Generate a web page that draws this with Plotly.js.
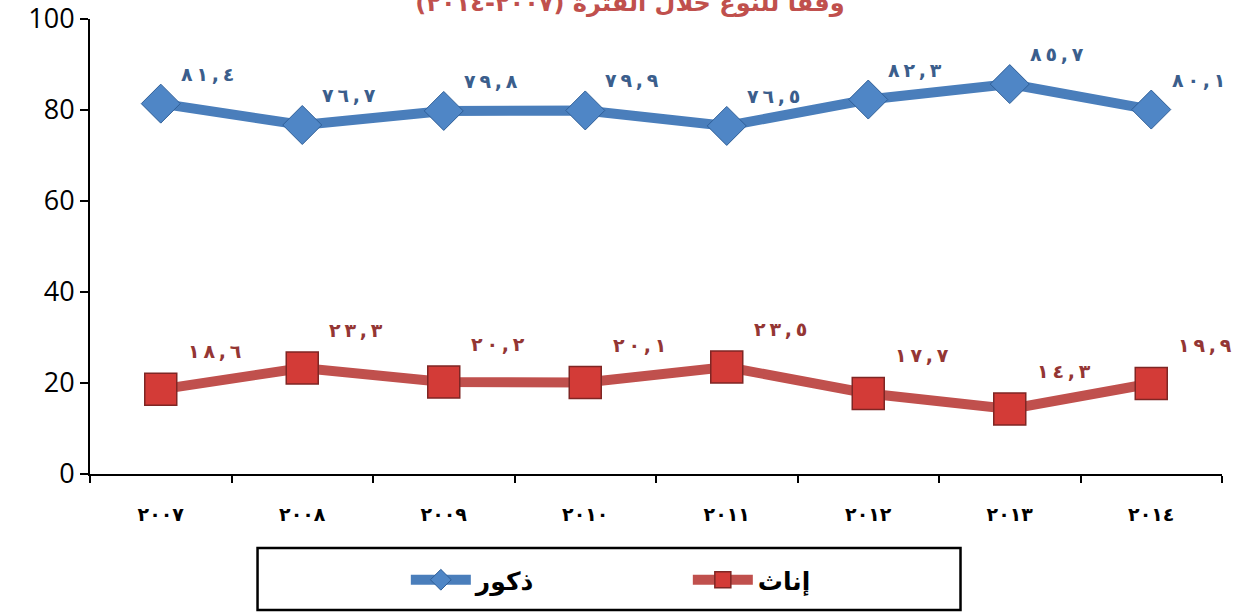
<!DOCTYPE html>
<html><head><meta charset="utf-8">
<script src="https://cdn.plot.ly/plotly-3.0.1.min.js"></script>
<style>html,body{margin:0;padding:0;background:#fff}</style>
</head><body>
<div id="chart" style="width:1245px;height:613px"></div>
<script>
const years = ["2007","2008","2009","2010","2011","2012","2013","2014"];
const yearLabels = ["٢٠٠٧","٢٠٠٨","٢٠٠٩","٢٠١٠","٢٠١١","٢٠١٢","٢٠١٣","٢٠١٤"];
const males = [81.4, 76.7, 79.8, 79.9, 76.5, 82.3, 85.7, 80.1];
const females = [18.6, 23.3, 20.2, 20.1, 23.5, 17.7, 14.3, 19.9];
const maleName = "ذكور";
const femaleName = "إناث";
const titleText = "وفقا للنوع خلال الفترة (٢٠٠٧-٢٠١٤)";

const arDigits = "٠١٢٣٤٥٦٧٨٩";
function toArabic(v){
  const s = v.toFixed(1).replace(".", ",");
  // force left-to-right visual order
  return "\u202D" + s.split("").map(c => /[0-9]/.test(c) ? arDigits[+c] : c).join("\u2009") + "\u202C";
}

const traces = [
  {x: years, y: males, name: maleName, type: "scatter", mode: "lines+markers",
   line: {color: "#4A7EBB", width: 10},
   marker: {symbol: "diamond", size: 30, color: "#4F86C6", line: {color: "#2F5F98", width: 1}}},
  {x: years, y: females, name: femaleName, type: "scatter", mode: "lines+markers",
   line: {color: "#C0504D", width: 10},
   marker: {symbol: "square", size: 32, color: "#D33B37", line: {color: "#7F2624", width: 1.5}}}
];

const annotations = [];
years.forEach((yr, i) => {
  annotations.push({x: i, y: males[i], xref: "x", yref: "y", text: toArabic(males[i]), showarrow: false,
    xshift: 47, yshift: 30, font: {family: "DejaVu Sans", size: 19, color: "#3B5E8C", weight: "bold"}});
  annotations.push({x: i, y: females[i], xref: "x", yref: "y", text: toArabic(females[i]), showarrow: false,
    xshift: 54, yshift: 38, font: {family: "DejaVu Sans", size: 19, color: "#943634", weight: "bold"}});
});

const layout = {
  width: 1245, height: 613,
  margin: {l: 90, r: 23, t: 19, b: 139, autoexpand: false},
  paper_bgcolor: "#fff", plot_bgcolor: "#fff",
  title: {text: "<b>" + titleText + "</b>", font: {family: "DejaVu Sans", size: 24, color: "#C0504D"},
          x: 0.506, xanchor: "center", yref: "paper", y: 1, yanchor: "bottom", pad: {b: 8}},
  xaxis: {type: "category", tickvals: years, ticktext: yearLabels, tickson: "boundaries",
          showgrid: false, zeroline: false, showline: true, linecolor: "#000", linewidth: 2,
          ticks: "outside", ticklen: 7, tickwidth: 2, tickcolor: "#000", ticklabelstandoff: 22,
          tickfont: {family: "DejaVu Sans", size: 19, color: "#000", weight: "bold"},
          range: [-0.5, 7.5], fixedrange: true},
  yaxis: {range: [0, 100], dtick: 20, showgrid: false, zeroline: false,
          showline: true, linecolor: "#000", linewidth: 2, ticklabeloverflow: "allow",
          ticks: "outside", ticklen: 8, tickwidth: 2, tickcolor: "#000",
          tickfont: {family: "Open Sans", size: 27, color: "#000"}},
  showlegend: true,
  legend: {orientation: "h", x: 0.279, xanchor: "left", y: -0.233, yanchor: "middle",
           borderwidth: 0, bgcolor: "rgba(0,0,0,0)",
           font: {family: "DejaVu Sans", size: 25, color: "#000", weight: "bold"},
           entrywidth: 207, itemwidth: 60},
  shapes: [{type: "rect", xref: "paper", yref: "paper", x0: 0.148, x1: 0.769, y0: -0.1626, y1: -0.299,
            line: {color: "#000", width: 2.5}, fillcolor: "rgba(0,0,0,0)"}],
  annotations: annotations
};

Plotly.newPlot("chart", traces, layout, {displayModeBar: false, staticPlot: true});
</script>
</body></html>
